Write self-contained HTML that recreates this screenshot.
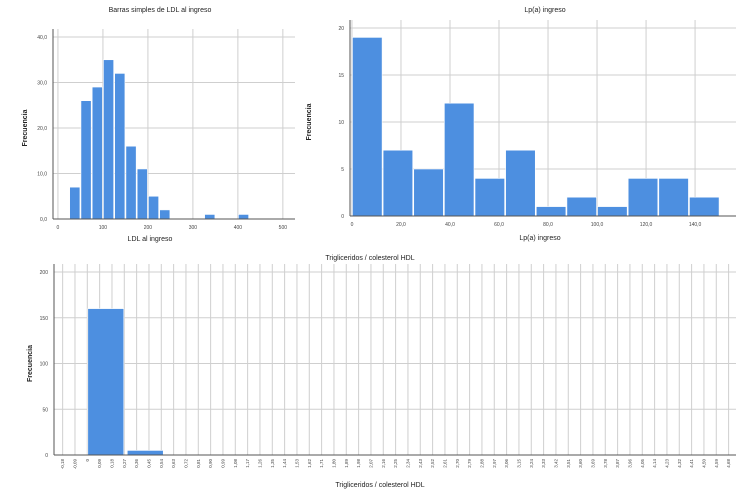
<!DOCTYPE html>
<html><head><meta charset="utf-8"><style>
body{margin:0;background:#fff;width:750px;height:500px;overflow:hidden;font-family:"Liberation Sans",sans-serif}
svg{display:block}
</style></head><body>
<svg id="c" width="750" height="500" xmlns="http://www.w3.org/2000/svg"></svg>
<script>
// LDL histogram
const ldlBinStarts=[25,50,75,100,125,150,175,200,225,325,400];
const ldlCounts=[7,26,29,35,32,16,11,5,2,1,1];
const ldlXTicks=[0,100,200,300,400,500];
const ldlXTickLabels=["0","100","200","300","400","500"];
const ldlYTicks=[0,10,20,30,40];
const ldlYTickLabels=["0,0","10,0","20,0","30,0","40,0"];
// Lp(a) histogram
const lpBinStarts=[0,12.5,25,37.5,50,62.5,75,87.5,100,112.5,125,137.5];
const lpCounts=[19,7,5,12,4,7,1,2,1,4,4,2];
const lpXTicks=[0,20,40,60,80,100,120,140];
const lpXTickLabels=["0","20,0","40,0","60,0","80,0","100,0","120,0","140,0"];
const lpYTicks=[0,5,10,15,20];
const lpYTickLabels=["0","5","10","15","20"];
// TG/HDL
const tgBinStarts=[2,5.2];
const tgCounts=[160,5];
const tgYTicks=[0,50,100,150,200];
const tgYTickLabels=["0","50","100","150","200"];
const tgXTickLabels="-0,18 -0,09 0 0,09 0,18 0,27 0,36 0,45 0,54 0,63 0,72 0,81 0,90 0,99 1,08 1,17 1,26 1,35 1,44 1,53 1,62 1,71 1,80 1,89 1,98 2,07 2,16 2,25 2,34 2,43 2,52 2,61 2,70 2,79 2,88 2,97 3,06 3,15 3,24 3,33 3,42 3,51 3,60 3,69 3,78 3,87 3,96 4,05 4,14 4,23 4,32 4,41 4,50 4,59 4,68".split(" ");

const svg=document.getElementById('c');
const NS="http://www.w3.org/2000/svg";
function mk(t,a,txt){const e=document.createElementNS(NS,t);for(const k in a)e.setAttribute(k,a[k]);if(txt!==undefined)e.textContent=txt;svg.appendChild(e);return e;}
const BLUE="#4d8fe0",GRID="#cfcfcf",AX="#555";

function panel(o){
  const xs=v=>o.x0+(v-o.xmin)/(o.xmax-o.xmin)*(o.x1-o.x0);
  const ys=v=>o.yb-(v-o.ymin)/(o.ymax-o.ymin)*(o.yb-o.yt);
  o.yTicks.forEach((v,i)=>{
    const l=mk('line',{x1:o.x0,x2:o.x1,y1:ys(v),y2:ys(v),stroke:GRID,'stroke-width':1});
    
    
    const t=mk('text',{x:o.x0-6,y:ys(v)+2,'font-size':5,'text-anchor':'end',fill:'#444'},o.yLabels[i]);
    
    
  });
  o.xTicks.forEach((v,i)=>{
    const l=mk('line',{x1:xs(v),x2:xs(v),y1:o.yt-8,y2:o.yb,stroke:GRID,'stroke-width':1});
    
    
    if(o.rot){
      const t=mk('text',{x:0,y:0,'font-size':4.5,'text-anchor':'end',fill:'#444',transform:`translate(${xs(v)+1.5},${o.yb+4}) rotate(-90)`},o.xLabels[i]);
      
      
    }else{
      const t=mk('text',{x:xs(v),y:o.yb+10,'font-size':5,'text-anchor':'middle',fill:'#444'},o.xLabels[i]);
      
      
    }
  });
  o.starts.forEach((s,i)=>{
    const r=mk('rect',{x:xs(s)+0.5,y:ys(o.counts[i]),width:xs(s+o.bw)-xs(s)-1,height:ys(0)-ys(o.counts[i]),fill:BLUE,stroke:'#fff','stroke-width':0.6});
    
    
  });
  const a1=mk('line',{x1:o.x0,x2:o.x0,y1:o.yt-8,y2:o.yb,stroke:AX,'stroke-width':1});
  
  
  const a2=mk('line',{x1:o.x0,x2:o.x1,y1:o.yb,y2:o.yb,stroke:AX,'stroke-width':1});
  
  
  const tt=mk('text',{x:o.tx,y:o.ty,'font-size':7,'text-anchor':'middle',fill:'#222'},o.title);
  
  
  const xl=mk('text',{x:o.xlx,y:o.xly,'font-size':7,'text-anchor':'middle',fill:'#222'},o.xlabel);
  
  
  const yl=mk('text',{x:0,y:0,'font-size':7,'text-anchor':'middle',fill:'#222','font-weight':'bold',transform:`translate(${o.ylx},${(o.yt+o.yb)/2}) rotate(-90)`},'Frecuencia');
  
  
}

panel({x0:53,x1:295,yt:37,yb:219,xmin:-11,xmax:527,ymin:0,ymax:40,
  yTicks:ldlYTicks,yLabels:ldlYTickLabels,xTicks:ldlXTicks,xLabels:ldlXTickLabels,
  starts:ldlBinStarts,counts:ldlCounts,bw:25,title:'Barras simples de LDL al ingreso',tx:160,ty:12,
  xlabel:'LDL al ingreso',xlx:150,xly:241,ylx:27});
panel({x0:350,x1:736,yt:28,yb:216,xmin:-0.8,xmax:156.7,ymin:0,ymax:20,
  yTicks:lpYTicks,yLabels:lpYTickLabels,xTicks:lpXTicks,xLabels:lpXTickLabels,
  starts:lpBinStarts,counts:lpCounts,bw:12.5,title:'Lp(a) ingreso',tx:545,ty:12,
  xlabel:'Lp(a) ingreso',xlx:540,xly:240,ylx:311});
const tgTicks=tgXTickLabels.map((_,i)=>i);
panel({x0:54,x1:736,yt:272,yb:455,xmin:-0.7,xmax:54.6,ymin:0,ymax:200,
  yTicks:tgYTicks,yLabels:tgYTickLabels,xTicks:tgTicks,xLabels:tgXTickLabels,rot:true,
  starts:tgBinStarts,counts:tgCounts,bw:3,title:'Trigliceridos / colesterol HDL',tx:370,ty:260,
  xlabel:'Trigliceridos / colesterol HDL',xlx:380,xly:487,ylx:32});
</script>
</body></html>
